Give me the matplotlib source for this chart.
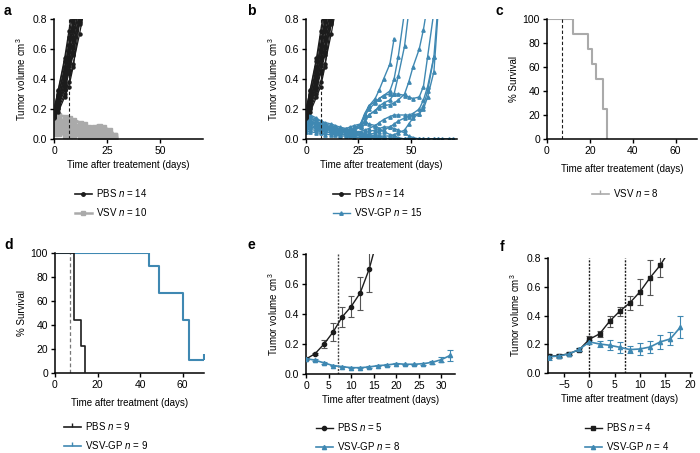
import numpy as np
import matplotlib
matplotlib.use("Agg")
import matplotlib.pyplot as plt
from matplotlib.lines import Line2D

plt.rcParams["font.family"] = ["Liberation Sans", "DejaVu Sans"]
plt.rcParams["mathtext.fontset"] = "custom"
plt.rcParams["mathtext.it"] = "Liberation Sans:italic"
plt.rcParams["mathtext.rm"] = "Liberation Sans"

BLACK = "#1c1c1c"
GRAY = "#aaaaaa"
BLUE = "#3f88b2"
FS = 7
TICK_FS = 7.5

# ── panel a/b: individual tumour curves ─────────────────────────────────────
PBS_DAYS = [0, 2, 5, 7, 9, 12, 14]
PBS_MICE = [
    [0.15, 0.20, 0.30, 0.38, 0.50, 0.70, 0.85],
    [0.17, 0.26, 0.42, 0.55, 0.68, 0.90],
    [0.19, 0.30, 0.45, 0.58, 0.72, 0.95],
    [0.16, 0.22, 0.35, 0.46, 0.58, 0.80],
    [0.18, 0.28, 0.48, 0.62, 0.78, 1.00],
    [0.14, 0.18, 0.28, 0.35, 0.48, 0.77],
    [0.20, 0.32, 0.52, 0.68, 0.85],
    [0.15, 0.23, 0.38, 0.50, 0.62, 0.85],
    [0.17, 0.25, 0.40, 0.53, 0.66, 0.88],
    [0.16, 0.24, 0.44, 0.60, 0.75, 0.98],
    [0.18, 0.29, 0.47, 0.63, 0.80],
    [0.15, 0.21, 0.33, 0.44, 0.56, 0.78, 0.95],
    [0.19, 0.33, 0.54, 0.72, 0.90],
    [0.16, 0.23, 0.37, 0.49, 0.61, 0.82],
]

VSV_DAYS = [0, 2, 5, 7, 9, 12, 14, 16, 19, 21, 23, 26, 28]
VSV_MICE = [
    [0.17, 0.16, 0.15, 0.14, 0.13, 0.11, 0.10, 0.08, 0.07, 0.06, 0.05, 0.04, 0.03],
    [0.15, 0.14, 0.12, 0.11, 0.10, 0.09, 0.08, 0.07, 0.08, 0.09, 0.08, 0.06, 0.03],
    [0.13, 0.12, 0.11, 0.10, 0.09, 0.08, 0.07, 0.06, 0.06, 0.07, 0.06, 0.04, 0.02],
    [0.11, 0.10, 0.09, 0.08, 0.07, 0.06, 0.05, 0.05, 0.05, 0.05, 0.04, 0.03, 0.01],
    [0.09, 0.08, 0.08, 0.07, 0.06, 0.05, 0.05, 0.04, 0.04, 0.04, 0.03, 0.02, 0.00],
    [0.07, 0.07, 0.06, 0.05, 0.05, 0.04, 0.04, 0.04, 0.03, 0.03, 0.02, 0.01, 0.00],
    [0.05, 0.05, 0.04, 0.04, 0.04, 0.03, 0.03, 0.03, 0.02, 0.02, 0.01, 0.00],
    [0.04, 0.04, 0.03, 0.03, 0.03, 0.02, 0.02, 0.02, 0.01, 0.00],
    [0.12, 0.11, 0.10, 0.09, 0.08, 0.06, 0.05, 0.04, 0.03, 0.02, 0.01, 0.00],
    [0.16, 0.13, 0.11, 0.09, 0.08, 0.07, 0.06, 0.05, 0.06, 0.07, 0.05, 0.03, 0.01],
]

GP_DAYS = [0, 2, 5, 7, 9, 12, 14, 16, 19, 21, 23, 26, 28, 30, 33, 35, 37, 40, 42,
           44, 47, 49, 51, 54, 56, 58, 61, 63, 65, 68, 70]
GP_MICE = [
    [0.18, 0.15, 0.13, 0.12, 0.10, 0.09, 0.08, 0.07, 0.06, 0.06, 0.07, 0.10, 0.16, 0.22,
     0.27, 0.33, 0.40, 0.50, 0.67],
    [0.16, 0.14, 0.12, 0.10, 0.09, 0.08, 0.07, 0.06, 0.05, 0.05, 0.06, 0.09, 0.15, 0.20,
     0.24, 0.27, 0.29, 0.32, 0.40, 0.55, 0.85],
    [0.14, 0.12, 0.11, 0.10, 0.09, 0.08, 0.07, 0.06, 0.06, 0.05, 0.06, 0.08, 0.12, 0.16,
     0.19, 0.22, 0.24, 0.26, 0.30, 0.42, 0.62, 0.85],
    [0.15, 0.13, 0.12, 0.10, 0.09, 0.08, 0.07, 0.07, 0.06, 0.06, 0.07, 0.10, 0.17, 0.22,
     0.25, 0.27, 0.29, 0.30, 0.30, 0.30, 0.29, 0.28, 0.27, 0.28, 0.35, 0.55, 0.85],
    [0.12, 0.11, 0.10, 0.09, 0.08, 0.07, 0.06, 0.06, 0.05, 0.05, 0.06, 0.08, 0.12, 0.16,
     0.19, 0.21, 0.22, 0.23, 0.24, 0.26, 0.30, 0.38, 0.48, 0.60, 0.73, 0.90],
    [0.10, 0.09, 0.08, 0.07, 0.07, 0.06, 0.06, 0.05, 0.05, 0.05, 0.05, 0.05, 0.06, 0.07,
     0.09, 0.11, 0.13, 0.15, 0.16, 0.16, 0.16, 0.16, 0.17, 0.20, 0.26, 0.35, 0.55],
    [0.13, 0.11, 0.10, 0.09, 0.08, 0.07, 0.06, 0.05, 0.04, 0.04, 0.03, 0.03, 0.03, 0.03,
     0.04, 0.05, 0.06, 0.08, 0.10, 0.12, 0.14, 0.15, 0.16, 0.17, 0.20, 0.28, 0.45, 0.85],
    [0.11, 0.10, 0.09, 0.08, 0.07, 0.06, 0.05, 0.05, 0.04, 0.04, 0.04, 0.03, 0.02, 0.02,
     0.02, 0.02, 0.02, 0.02, 0.03, 0.04, 0.06, 0.10, 0.14, 0.17, 0.22, 0.32, 0.55, 0.90],
    [0.19, 0.16, 0.14, 0.12, 0.11, 0.10, 0.09, 0.08, 0.07, 0.06, 0.05, 0.04, 0.03, 0.02,
     0.01, 0.00, 0.00, 0.00, 0.00, 0.00, 0.00, 0.00, 0.00, 0.00, 0.00, 0.00, 0.00, 0.00,
     0.00, 0.00, 0.00],
    [0.09, 0.08, 0.07, 0.06, 0.06, 0.05, 0.05, 0.04, 0.04, 0.03, 0.03, 0.02, 0.02, 0.01,
     0.01, 0.00, 0.00, 0.00, 0.00, 0.00, 0.00, 0.00],
    [0.07, 0.06, 0.06, 0.05, 0.05, 0.04, 0.04, 0.03, 0.03, 0.03, 0.02, 0.02, 0.01, 0.00,
     0.00, 0.00, 0.00, 0.00, 0.00, 0.00, 0.00, 0.00, 0.00, 0.00],
    [0.05, 0.05, 0.04, 0.04, 0.03, 0.03, 0.03, 0.02, 0.02, 0.02, 0.01, 0.01, 0.00, 0.00,
     0.00, 0.00],
    [0.15, 0.12, 0.10, 0.09, 0.08, 0.07, 0.06, 0.06, 0.05, 0.05, 0.05, 0.04, 0.04, 0.05,
     0.06, 0.07, 0.08, 0.08, 0.07, 0.06, 0.04, 0.02, 0.01, 0.00, 0.00, 0.00, 0.00, 0.00],
    [0.12, 0.11, 0.10, 0.09, 0.08, 0.07, 0.06, 0.06, 0.07, 0.08, 0.09, 0.10, 0.11, 0.10,
     0.09, 0.07, 0.05, 0.03, 0.02, 0.01, 0.00, 0.00, 0.00],
    [0.08, 0.08, 0.07, 0.07, 0.06, 0.06, 0.05, 0.05, 0.05, 0.04, 0.04, 0.04, 0.03, 0.03,
     0.02, 0.02, 0.01, 0.00, 0.00, 0.00, 0.00, 0.00, 0.00, 0.00, 0.00, 0.00, 0.00, 0.00,
     0.00, 0.00, 0.00],
]

# ── panel c/d: survival ─────────────────────────────────────────────────────
C_VSV_T = [0, 12, 19, 21, 23, 26, 28]
C_VSV_S = [100, 87.5, 75, 62.5, 50, 25, 0]

D_PBS_T = [0, 9, 12, 14]
D_PBS_S = [100, 44.4, 22.2, 0]
D_GP_T = [0, 44, 49, 60, 63, 70]
D_GP_S = [100, 88.9, 66.7, 44.4, 11.1, 11.1]

# ── panel e: mean ± SEM ─────────────────────────────────────────────────────
E_PBS_DAYS = [0, 2, 4, 6, 8, 10, 12, 14]
E_PBS_MEAN = [0.10, 0.135, 0.20, 0.28, 0.38, 0.45, 0.54, 0.70]
E_PBS_ERR = [0.005, 0.008, 0.025, 0.06, 0.065, 0.07, 0.11, 0.15]
E_PBS_TAIL = [0.70, 0.92]          # fitted line continuing past day 14
E_PBS_TAIL_DAYS = [14, 16]
E_GP_DAYS = [0, 2, 4, 6, 8, 10, 12, 14, 16, 18, 20, 22, 24, 26, 28, 30, 32]
E_GP_MEAN = [0.103, 0.092, 0.074, 0.056, 0.049, 0.042, 0.042, 0.047, 0.056, 0.06,
             0.069, 0.065, 0.065, 0.069, 0.078, 0.096, 0.125]
E_GP_ERR = [0.006, 0.005, 0.005, 0.004, 0.004, 0.004, 0.004, 0.004, 0.005, 0.005,
            0.005, 0.005, 0.005, 0.006, 0.01, 0.015, 0.035]

# ── panel f: mean ± SEM ─────────────────────────────────────────────────────
F_DAYS_PBS = [-8, -6, -4, -2, 0, 2, 4, 6, 8, 10, 12, 14]
F_PBS_MEAN = [0.116, 0.121, 0.135, 0.163, 0.235, 0.272, 0.36, 0.43, 0.488, 0.565, 0.663, 0.749]
F_PBS_ERR = [0.015, 0.01, 0.008, 0.008, 0.02, 0.02, 0.04, 0.03, 0.05, 0.09, 0.12, 0.08]
F_PBS_TAIL = [0.749, 0.86]
F_PBS_TAIL_DAYS = [14, 16]
F_DAYS_GP = [-8, -6, -4, -2, 0, 2, 4, 6, 8, 10, 12, 14, 16, 18]
F_GP_MEAN = [0.113, 0.118, 0.133, 0.165, 0.216, 0.202, 0.193, 0.179, 0.163, 0.167,
             0.181, 0.216, 0.237, 0.319]
F_GP_ERR = [0.02, 0.015, 0.01, 0.01, 0.015, 0.02, 0.035, 0.04, 0.025, 0.045, 0.04,
            0.05, 0.045, 0.075]

TREAT_DAY = 7


def px_axes(fig, x0, y0, x1, y1):
    W, H = 700, 453
    return fig.add_axes([x0 / W, 1 - y1 / H, (x1 - x0) / W, (y1 - y0) / H])


def style(ax):
    for s in ("top", "right"):
        ax.spines[s].set_visible(False)
    for s in ("left", "bottom"):
        ax.spines[s].set_linewidth(1.1)
        ax.spines[s].set_color("black")
    ax.tick_params(labelsize=TICK_FS, length=3, width=1.0, pad=2)


def tumor_axes(ax, xlabel, xlim, xticks):
    ax.set_xlim(*xlim)
    ax.set_ylim(0, 0.8)
    ax.set_xticks(xticks)
    ax.set_yticks([0, 0.2, 0.4, 0.6, 0.8])
    ax.set_yticklabels(["0.0", "0.2", "0.4", "0.6", "0.8"])
    ax.set_ylabel("Tumor volume cm$^{3}$", fontsize=FS, labelpad=3)
    ax.set_xlabel(xlabel, fontsize=FS, labelpad=3)
    style(ax)


def surv_axes(ax, xlabel):
    ax.set_xlim(0, 70)
    ax.set_ylim(0, 100)
    ax.set_xticks([0, 20, 40, 60])
    ax.set_yticks([0, 20, 40, 60, 80, 100])
    ax.set_ylabel("% Survival", fontsize=FS, labelpad=3)
    ax.set_xlabel(xlabel, fontsize=FS, labelpad=6)
    style(ax)


def add_legend(fig, handles, labels, x, y):
    fig.legend(handles, labels, loc="upper left", bbox_to_anchor=(x / 700, 1 - y / 453),
               frameon=False, fontsize=FS, handlelength=1.7, handletextpad=0.5,
               labelspacing=0.75, borderpad=0, borderaxespad=0)


def plot_pbs_mice(ax):
    for m in PBS_MICE:
        ax.plot(PBS_DAYS[:len(m)], m, "-o", color=BLACK, lw=0.9, ms=2.2, zorder=3)


def main():
    fig = plt.figure(figsize=(7, 4.53), dpi=100)

    ANY = "Time after treatement (days)"
    GOOD = "Time after treatment (days)"

    # a
    ax = px_axes(fig, 54, 19, 203, 139)
    for m in VSV_MICE:
        ax.plot(VSV_DAYS[:len(m)], m, "-s", color=GRAY, lw=2.0, ms=3.6, zorder=2)
    plot_pbs_mice(ax)
    ax.axvline(TREAT_DAY, color=BLACK, ls=(0, (3, 2)), lw=0.8, zorder=4)
    tumor_axes(ax, ANY, (0, 70), [0, 25, 50])
    h = [Line2D([], [], color=BLACK, marker="o", ms=2.5, lw=1.2),
         Line2D([], [], color=GRAY, marker="s", ms=3, lw=1.8)]
    add_legend(fig, h, ["PBS $n$ = 14", "VSV $n$ = 10"], 75, 187)

    # b
    ax = px_axes(fig, 306, 19, 457, 139)
    for m in GP_MICE:
        ax.plot(GP_DAYS[:len(m)], m, "-^", color=BLUE, lw=1.0, ms=2.4, zorder=2)
    plot_pbs_mice(ax)
    ax.axvline(TREAT_DAY, color=BLACK, ls=(0, (3, 2)), lw=0.8, zorder=4)
    tumor_axes(ax, ANY, (0, 72), [0, 25, 50])
    h = [Line2D([], [], color=BLACK, marker="o", ms=2.5, lw=1.2),
         Line2D([], [], color=BLUE, marker="^", ms=2.5, lw=1.0)]
    add_legend(fig, h, ["PBS $n$ = 14", "VSV-GP $n$ = 15"], 333, 187)

    # c
    ax = px_axes(fig, 547, 19, 697, 139)
    ax.step(C_VSV_T, C_VSV_S, where="post", color=GRAY, lw=1.5)
    ax.axvline(TREAT_DAY, color=BLACK, ls=(0, (3, 2)), lw=0.8)
    surv_axes(ax, ANY)
    h = [Line2D([], [], color=GRAY, marker=2, ms=3, lw=1.2)]
    add_legend(fig, h, ["VSV $n$ = 8"], 592, 187)

    # d
    ax = px_axes(fig, 55, 253, 204, 373)
    ax.step(D_PBS_T, D_PBS_S, where="post", color=BLACK, lw=1.2, zorder=3)
    ax.step(D_GP_T, D_GP_S, where="post", color=BLUE, lw=1.5, zorder=2)
    ax.plot(D_GP_T[-1], D_GP_S[-1], marker=2, ms=4, color=BLUE, mew=1.5)
    ax.axvline(TREAT_DAY, color="#777777", ls=(0, (3, 2)), lw=0.9)
    surv_axes(ax, GOOD)
    h = [Line2D([], [], color=BLACK, marker=2, ms=3, lw=1.2),
         Line2D([], [], color=BLUE, marker=2, ms=3, lw=1.2)]
    add_legend(fig, h, ["PBS $n$ = 9", "VSV-GP $n$ = 9"], 64, 420)

    # e
    ax = px_axes(fig, 306, 254, 455, 374)
    ax.plot(E_PBS_TAIL_DAYS, E_PBS_TAIL, color=BLACK, lw=1.0)
    ax.errorbar(E_PBS_DAYS, E_PBS_MEAN, yerr=E_PBS_ERR, fmt="-o", color=BLACK,
                ecolor="#555555", elinewidth=0.8, capsize=2.2, capthick=0.8,
                lw=1.0, ms=3, zorder=3)
    ax.errorbar(E_GP_DAYS, E_GP_MEAN, yerr=E_GP_ERR, fmt="-^", color=BLUE,
                ecolor=BLUE, elinewidth=0.8, capsize=2.2, capthick=0.8,
                lw=1.2, ms=3, zorder=3)
    ax.axvline(TREAT_DAY, color="#444444", ls=(0, (1.5, 1)), lw=1.0, zorder=1)
    tumor_axes(ax, GOOD, (0, 33), [0, 5, 10, 15, 20, 25, 30])
    h = [Line2D([], [], color=BLACK, marker="o", ms=3, lw=1.0),
         Line2D([], [], color=BLUE, marker="^", ms=3, lw=1.2)]
    add_legend(fig, h, ["PBS $n$ = 5", "VSV-GP $n$ = 8"], 316, 421)

    # f
    ax = px_axes(fig, 548, 258, 692, 373)
    ax.plot(F_PBS_TAIL_DAYS, F_PBS_TAIL, color=BLACK, lw=1.0)
    ax.errorbar(F_DAYS_PBS, F_PBS_MEAN, yerr=F_PBS_ERR, fmt="-s", color=BLACK,
                ecolor="#555555", elinewidth=0.8, capsize=2.2, capthick=0.8,
                lw=1.0, ms=2.5, zorder=3)
    ax.errorbar(F_DAYS_GP, F_GP_MEAN, yerr=F_GP_ERR, fmt="-^", color=BLUE,
                ecolor=BLUE, elinewidth=0.8, capsize=2.2, capthick=0.8,
                lw=1.2, ms=3, zorder=3)
    ax.axvline(0, color=BLACK, ls=(0, (1.5, 1)), lw=1.0, zorder=1)
    ax.axvline(TREAT_DAY, color=BLACK, ls=(0, (1.5, 1)), lw=1.0, zorder=1)
    tumor_axes(ax, GOOD, (-8.2, 20.3), [-5, 0, 5, 10, 15, 20])
    h = [Line2D([], [], color=BLACK, marker="s", ms=2.5, lw=1.0),
         Line2D([], [], color=BLUE, marker="^", ms=3, lw=1.2)]
    add_legend(fig, h, ["PBS $n$ = 4", "VSV-GP $n$ = 4"], 585, 421)

    # panel letters
    for lbl, x, y in [("a", 4, 4), ("b", 247, 4), ("c", 496, 4),
                      ("d", 4, 238), ("e", 248, 238), ("f", 500, 240)]:
        fig.text(x / 700, 1 - y / 453, lbl, fontsize=10, fontweight="bold",
                 va="top", ha="left")

    fig.savefig("out.png", dpi=100)
    plt.close(fig)


if __name__ == "__main__":
    main()
